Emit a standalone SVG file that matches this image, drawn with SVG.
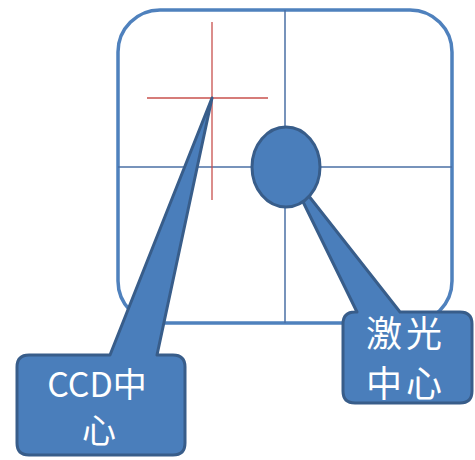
<svg xmlns="http://www.w3.org/2000/svg" width="475" height="460" viewBox="0 0 475 460">
<style>
.frame{fill:#ffffff;stroke:#4f81bd;stroke-width:3.5}
.grid{stroke:#4a6fa5;stroke-width:1.5;fill:none}
.cross{stroke:#c8504d;stroke-width:1.3;fill:none}
.callout{fill:#4a7ebb;stroke:#385d8a;stroke-width:3;stroke-linejoin:round}
.lbl{fill:#ffffff;font-family:"Noto Sans CJK SC","Noto Sans",sans-serif;text-anchor:middle}
</style>
<rect width="475" height="460" fill="#ffffff"/>
<g id="frame">
<rect class="frame" x="118" y="10" width="334" height="313" rx="42" ry="42"/>
<line class="grid" x1="285" y1="10" x2="285" y2="323"/>
<line class="grid" x1="118" y1="167" x2="452" y2="167"/>
</g>
<g id="ccd-cross">
<line class="cross" x1="212" y1="22" x2="212" y2="200"/>
<line class="cross" x1="147" y1="98" x2="268" y2="98"/>
</g>
<g id="connectors">
</g>
<g id="ccd-callout">
<path class="callout" d="M29,355 H110 L212,98 L157,355 H173 Q185,355 185,367 V443 Q185,455 173,455 H29 Q17,455 17,443 V367 Q17,355 29,355 Z"/>
<text class="lbl" font-size="34" x="97" y="397">CCD中</text>
<text class="lbl" font-size="34" x="99" y="443">心</text>
</g>
<g id="laser-callout">
<path class="callout" d="M355,312 H357 L286,167 L400,312 H460 Q472,312 472,324 V391 Q472,403 460,403 H355 Q343,403 343,391 V324 Q343,312 355,312 Z"/>
<text class="lbl" font-size="36" letter-spacing="4" x="406" y="347">激光</text>
<text class="lbl" font-size="36" letter-spacing="4" x="406" y="397">中心</text>
</g>
<g id="laser-spot">
<ellipse class="callout" cx="286" cy="167" rx="34" ry="40"/>
</g>
</svg>
